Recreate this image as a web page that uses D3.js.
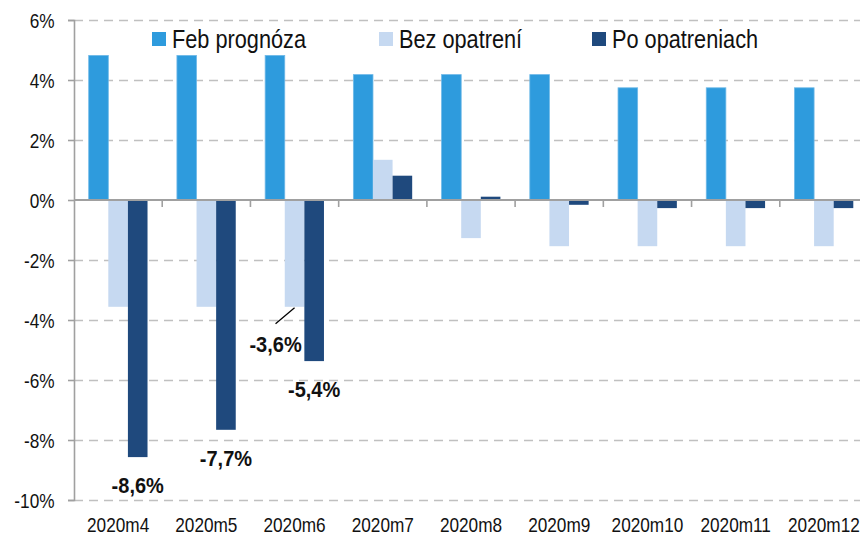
<!DOCTYPE html>
<html>
<head>
<meta charset="utf-8">
<script src="https://cdn.jsdelivr.net/npm/d3@7"></script>
<style>
html,body{margin:0;padding:0;background:#fff;}
svg{display:block;}
</style>
</head>
<body>
<svg id="chart" width="860" height="534"></svg>
<script>
// ---- data ----
const categories = ["2020m4","2020m5","2020m6","2020m7","2020m8","2020m9","2020m10","2020m11","2020m12"];
const seriesNames = ["Feb prognóza","Bez opatrení","Po opatreniach"];
const febPrognoza   = [4.82, 4.82, 4.82, 4.18, 4.18, 4.18, 3.74, 3.74, 3.74];
const bezOpatreni   = [-3.56, -3.56, -3.56, 1.34, -1.27, -1.54, -1.54, -1.54, -1.54];
const poOpatreniach = [-8.57, -7.66, -5.37, 0.81, 0.11, -0.16, -0.27, -0.27, -0.27];
const yTicks = [-10, -8, -6, -4, -2, 0, 2, 4, 6];
const colors = ["#2e9bdd", "#c6d9f1", "#1f497d"];
// labelled bars: [series index, category index]
const labelled = [[2,0],[2,1],[2,2],[1,2]];

const seriesValues = [febPrognoza, bezOpatreni, poOpatreniach];

const svg = d3.select("#chart");

// font detection (narrow font available?)
const REG = "'Liberation Sans Narrow','Arial Narrow','Liberation Sans',Arial,sans-serif";
function measure(fam, weight){
  const t = svg.append("text").attr("font-family", fam).attr("font-size", 100)
    .attr("font-weight", weight).text("2020m4 Feb prognóza");
  const w = t.node().getComputedTextLength(); t.remove(); return w;
}
const ratioReg = measure(REG, "normal") / measure("'Liberation Sans',Arial,sans-serif", "normal");
const ratioBold = measure(REG, "bold") / measure("'Liberation Sans',Arial,sans-serif", "bold");
const sReg = ratioReg > 0.9 ? 0.82 : 1;
const sBold = ratioBold > 0.9 ? 0.93 : 1.1;

// ---- scales ----
const mLeft = 74, mRight = 868, mTop = 20, mBottom = 500;
const y = d3.scaleLinear().domain([-10, 6]).range([mBottom, mTop]);
const x0 = d3.scaleBand().domain(categories).range([mLeft, mRight]).padding(0);
const x1 = d3.scaleBand().domain(d3.range(3)).range([0, x0.bandwidth()]).paddingInner(0).paddingOuter(0.75);

// gridlines
svg.append("g").selectAll("line").data(yTicks.filter(d => d !== 0)).join("line")
  .attr("x1", mLeft).attr("x2", 860).attr("y1", d => y(d) + 0.5).attr("y2", d => y(d) + 0.5)
  .attr("stroke", "#c0c0c0").attr("stroke-width", 1.6).attr("stroke-dasharray", "9,6");

// bars
const groups = svg.append("g").selectAll("g").data(categories).join("g")
  .attr("transform", d => `translate(${x0(d)},0)`);
groups.selectAll("rect").data((c, ci) => seriesValues.map((s, si) => ({si, v: s[ci]}))).join("rect")
  .attr("x", d => x1(d.si)).attr("width", x1.bandwidth())
  .attr("y", d => Math.min(y(d.v), y(0))).attr("height", d => Math.abs(y(d.v) - y(0)))
  .attr("fill", d => colors[d.si])
  .attr("stroke", d => d.si === 0 ? "#6fb9e8" : "none").attr("stroke-width", 0.8);

// y axis
const yAxis = svg.append("g").attr("transform", `translate(${mLeft},0)`)
  .call(d3.axisLeft(y).tickValues(yTicks).tickSize(6).tickPadding(13).tickFormat(d => d + "%"));
yAxis.select(".domain").attr("stroke", "#a0a0a0").attr("stroke-width", 1.6);
yAxis.selectAll(".tick line").attr("stroke", "#a0a0a0").attr("stroke-width", 1.6);
yAxis.selectAll(".tick text")
  .attr("font-family", REG).attr("font-size", 21).attr("fill", "#111")
  .attr("dy", "0.36em")
  .attr("x", -19.5 / sReg).attr("transform", `scale(${sReg},1)`);

// zero line with category ticks
const zero = svg.append("g").attr("transform", `translate(0,${y(0)})`);
zero.append("line").attr("x1", mLeft).attr("x2", 860).attr("y1", 0).attr("y2", 0)
  .attr("stroke", "#a0a0a0").attr("stroke-width", 1.8);
zero.selectAll(".ct").data(categories.slice(1)).join("line").attr("class", "ct")
  .attr("x1", d => x0(d)).attr("x2", d => x0(d)).attr("y1", 0).attr("y2", 7)
  .attr("stroke", "#a0a0a0").attr("stroke-width", 1.6);

// x axis labels
const xAxis = svg.append("g").attr("transform", `translate(0,${mBottom})`)
  .call(d3.axisBottom(x0).tickSize(0).tickPadding(0));
xAxis.select(".domain").remove();
xAxis.selectAll(".tick text")
  .attr("font-family", REG).attr("font-size", 21).attr("fill", "#111")
  .attr("dy", null).attr("y", 32).attr("transform", `scale(${sReg},1)`)
  .attr("x", 0);

// data labels
const fmt = v => d3.format(".1f")(v).replace(".", ",").replace("−", "-") + "%";
const lab = svg.append("g");
labelled.forEach(([si, ci]) => {
  const v = seriesValues[si][ci];
  const cx = x0(categories[ci]) + x1(si) + x1.bandwidth() / 2;
  const by = y(v);
  let tx = cx, ty = by + 36;
  if (si === 1) {
    tx = cx - 19; ty = by + 45;
    lab.append("line").attr("x1", cx - 19).attr("y1", by + 17).attr("x2", cx).attr("y2", by + 1)
      .attr("stroke", "#000").attr("stroke-width", 1.3);
  }
  lab.append("g").attr("transform", `translate(${tx},${ty})`)
    .append("text").attr("text-anchor", "middle")
    .attr("font-family", REG).attr("font-weight", "bold").attr("font-size", 21.5).attr("fill", "#111")
    .attr("transform", `scale(${sBold},1)`).text(fmt(v));
});

// legend
const legendX = [152, 379, 592];
const leg = svg.append("g").selectAll("g").data(seriesNames).join("g")
  .attr("transform", (d, i) => `translate(${legendX[i]},32)`);
leg.append("rect").attr("width", 14).attr("height", 14).attr("fill", (d, i) => colors[i]);
leg.append("g").attr("transform", "translate(20,15.5)").append("text")
  .attr("font-family", REG).attr("font-size", 26.5).attr("fill", "#111")
  .attr("transform", `scale(${sReg},1)`).text(d => d);
</script>
</body>
</html>
